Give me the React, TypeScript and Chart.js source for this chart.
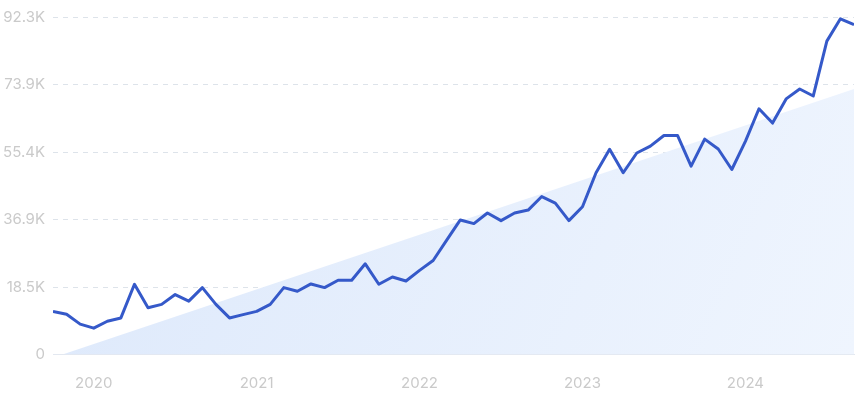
import React, { useEffect, useRef } from "react";
import { Chart, registerables } from "chart.js";

Chart.register(...registerables);

// Monthly points, Oct 2019 .. Sep 2024
const months: string[] = [
  "2019-10", "2019-11", "2019-12",
  "2020-01", "2020-02", "2020-03", "2020-04", "2020-05", "2020-06", "2020-07", "2020-08", "2020-09", "2020-10", "2020-11", "2020-12",
  "2021-01", "2021-02", "2021-03", "2021-04", "2021-05", "2021-06", "2021-07", "2021-08", "2021-09", "2021-10", "2021-11", "2021-12",
  "2022-01", "2022-02", "2022-03", "2022-04", "2022-05", "2022-06", "2022-07", "2022-08", "2022-09", "2022-10", "2022-11", "2022-12",
  "2023-01", "2023-02", "2023-03", "2023-04", "2023-05", "2023-06", "2023-07", "2023-08", "2023-09", "2023-10", "2023-11", "2023-12",
  "2024-01", "2024-02", "2024-03", "2024-04", "2024-05", "2024-06", "2024-07", "2024-08", "2024-09",
];

const values: number[] = [
  11800, 11000, 8300,
  7200, 9100, 10000, 19200, 12800, 13700, 16400, 14600, 18300, 13700, 10000, 10900,
  11800, 13700, 18300, 17300, 19300, 18300, 20300, 20300, 24800, 19200, 21200, 20100,
  23000, 25700, 31300, 36800, 35800, 38700, 36600, 38700, 39500, 43200, 41400, 36600,
  40400, 49700, 56100, 49700, 55100, 57000, 59900, 59900, 51500, 58900, 56200, 50600,
  58300, 67200, 63300, 69900, 72600, 70700, 85700, 91800, 90200,
];

// Trend area (triangle): start position (month index) and end value
const trendX: number[] = [0.7, 59];
const trendY: number[] = [0, 72600];

const yearLabels: string[] = ["2020", "2021", "2022", "2023", "2024"];
const yTickValues: number[] = [0, 18460, 36920, 55380, 73840, 92300];
const yTickLabels: string[] = ["0", "18.5K", "36.9K", "55.4K", "73.9K", "92.3K"];

const yearPositions = yearLabels.map((y) => months.indexOf(`${y}-01`));

export default function App() {
  const ref = useRef<HTMLCanvasElement | null>(null);

  useEffect(() => {
    if (!ref.current) return;
    const lineData = values.map((v, i) => ({ x: i, y: v }));
    const trendData = trendX.map((x, i) => ({ x, y: trendY[i] }));
    const font = { family: "Inter, 'Noto Sans', sans-serif", size: 15 };

    const chart = new Chart(ref.current, {
      type: "line",
      data: {
        datasets: [
          {
            label: "Searches",
            data: lineData,
            borderColor: "#3559c9",
            borderWidth: 3,
            pointRadius: 0,
            tension: 0,
            fill: false,
            order: 0,
            borderJoinStyle: "round",
          },
          {
            label: "Trend",
            data: trendData,
            borderWidth: 0,
            borderColor: "rgba(0,0,0,0)",
            pointRadius: 0,
            fill: "origin",
            order: 1,
            backgroundColor: (ctx: any) => {
              const area = ctx.chart.chartArea;
              if (!area) return "#e3edfc";
              const g = ctx.chart.ctx.createLinearGradient(area.left, area.top, area.right, area.bottom);
              g.addColorStop(0, "#dce8fb");
              g.addColorStop(1, "#eff5fe");
              return g;
            },
          },
        ],
      },
      options: {
        animation: false,
        responsive: true,
        maintainAspectRatio: false,
        layout: { padding: { top: 15, right: 6, left: 0, bottom: 0 } },
        plugins: { legend: { display: false }, tooltip: { enabled: false } },
        scales: {
          x: {
            type: "linear",
            min: 0,
            max: months.length - 1,
            grid: { display: false, drawTicks: false },
            border: { display: true, color: "#e3e8f0", width: 1 },
            afterBuildTicks: (scale: any) => {
              scale.ticks = yearPositions.map((p) => ({ value: p }));
            },
            afterFit: (scale: any) => {
              scale.height = 45.5;
            },
            ticks: {
              autoSkip: false,
              maxRotation: 0,
              padding: 20,
              color: "#cacaca",
              font,
              callback: (v: any) => {
                const i = yearPositions.indexOf(Number(v));
                return i >= 0 ? yearLabels[i] : "";
              },
            },
          },
          y: {
            min: 0,
            max: yTickValues[yTickValues.length - 1],
            afterBuildTicks: (scale: any) => {
              scale.ticks = yTickValues.map((v) => ({ value: v }));
            },
            afterFit: (scale: any) => {
              scale.width = 53;
            },
            grid: {
              drawTicks: false,
              color: (ctx: any) => (ctx.tick && ctx.tick.value === 0 ? "rgba(0,0,0,0)" : "#dde3ea"),
              lineWidth: 1,
            },
            border: { display: false, dash: [5, 5] },
            ticks: {
              padding: 8,
              color: "#cacaca",
              font,
              callback: (v: any) => {
                const i = yTickValues.indexOf(Number(v));
                return i >= 0 ? yTickLabels[i] : "";
              },
            },
          },
        },
      },
    } as any);
    return () => chart.destroy();
  }, []);

  return (
    <div style={{ position: "absolute", left: 0, top: 0, width: 860, height: 400, background: "#fff" }}>
      <canvas ref={ref} />
    </div>
  );
}
